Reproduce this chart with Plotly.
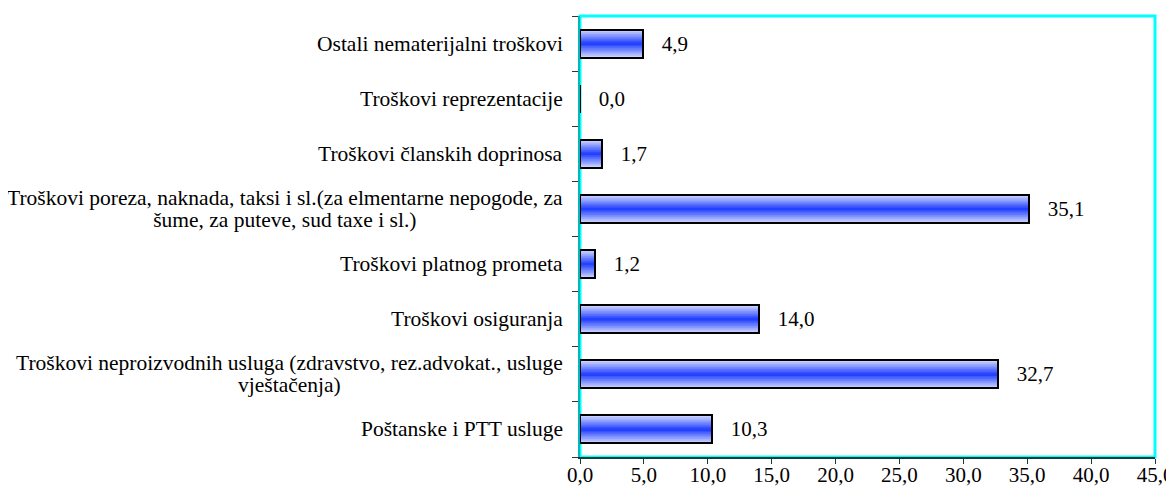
import plotly.graph_objects as go

# categories listed bottom -> top, as they appear on the axis
categories = [
    "Poštanske i PTT usluge",
    "Troškovi neproizvodnih usluga (zdravstvo, rez.advokat., usluge<br>vještačenja)",
    "Troškovi osiguranja",
    "Troškovi platnog prometa",
    "Troškovi poreza, naknada, taksi i sl.(za elmentarne nepogode, za<br>šume, za puteve, sud taxe i sl.)",
    "Troškovi članskih doprinosa",
    "Troškovi reprezentacije",
    "Ostali nematerijalni troškovi",
]
values = [10.3, 32.7, 14.0, 1.2, 35.1, 1.7, 0.0, 4.9]
x_ticks = [0, 5, 10, 15, 20, 25, 30, 35, 40, 45]

FONT = "Liberation Serif"
SIZE = 21
BAR_W = 0.51

# fake a vertical gradient (light edges, saturated centre) with stacked bars
light = (210, 218, 255)
dark = (35, 65, 255)
n_layers = 20

fig = go.Figure()
for k in range(n_layers):
    t = k / (n_layers - 1)
    col = tuple(round(light[i] + (dark[i] - light[i]) * t) for i in range(3))
    fig.add_trace(go.Bar(
        x=values, y=categories, orientation="h",
        width=BAR_W * (1 - k / n_layers),
        marker=dict(color="rgb(%d,%d,%d)" % col, line=dict(width=0)),
        hoverinfo="skip", showlegend=False,
    ))

# outline + value labels
fig.add_trace(go.Bar(
    x=values, y=categories, orientation="h", width=BAR_W,
    marker=dict(color="rgba(0,0,0,0)", line=dict(color="black", width=2)),
    text=["\u00a0\u00a0\u00a0" + f"{v:.1f}".replace(".", ",") for v in values],
    textposition="outside", cliponaxis=False,
    textfont=dict(family=FONT, size=SIZE, color="black"),
    showlegend=False,
))

# category labels, centred multi-line like the original; a smaller base font
# keeps the line spacing tight like the Excel original
for cat in categories:
    lines = cat.split("<br>")
    txt = "<br>".join(f"<span style='font-size:{SIZE + 0.5}px'>{ln}</span>" for ln in lines)
    fig.add_annotation(
        x=0, xref="paper", y=cat, yref="y", text=txt,
        xanchor="right", xshift=-15, align="center", showarrow=False,
        font=dict(family=FONT, size=17, color="black"),
    )

# frame around the plot area
fig.add_shape(type="rect", xref="x domain", yref="y domain", x0=0, x1=1, y0=0, y1=1,
              line=dict(color="#00ffff", width=3), layer="below")

# page has an 8px body margin; figure runs a little past the window so the
# last tick label is not clipped by the svg
fig.update_layout(
    width=1180, height=495,
    margin=dict(l=572, r=33, t=8, b=46),
    barmode="overlay", bargap=0,
    plot_bgcolor="white", paper_bgcolor="white",
    separators=",.",
    font=dict(family=FONT, size=SIZE, color="black"),
    xaxis=dict(
        range=[0, 45], tickvals=x_ticks, tickformat=".1f",
        showgrid=False, zeroline=False, automargin=False,
        showline=True, linecolor="#1a3a3a", linewidth=2,
        ticks="outside", ticklen=5, tickcolor="#1a3a3a",
        ticklabelstandoff=-7,
        tickfont=dict(family=FONT, size=SIZE, color="black"),
    ),
    yaxis=dict(
        categoryorder="array", categoryarray=categories,
        range=[-0.5, 7.5], showticklabels=False, automargin=False,
        showgrid=False, zeroline=False,
        showline=True, linecolor="#00b8b8", linewidth=2,
        ticks="outside", tickson="boundaries", ticklen=6, tickcolor="#333333",
    ),
)

fig.write_html("out.html")
